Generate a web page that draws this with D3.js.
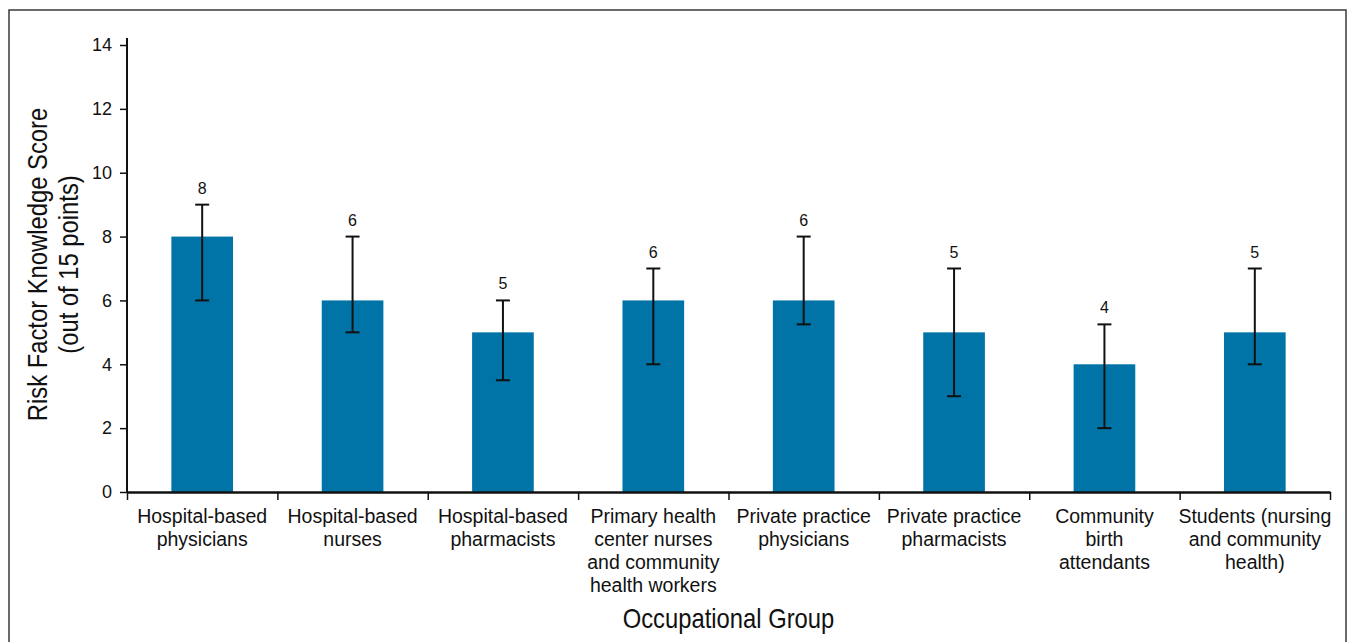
<!DOCTYPE html>
<html>
<head>
<meta charset="utf-8">
<script src="https://cdn.jsdelivr.net/npm/d3@7"></script>
<style>
  body { margin: 0; background: #fff; }
  svg { display: block; }
  .tick text { font-family: "Liberation Sans", Arial, sans-serif; }
</style>
</head>
<body>
<svg id="chart" width="1355" height="642"></svg>
<script>
// chart values
const categories = [
    ['Hospital-based', 'physicians'],
    ['Hospital-based', 'nurses'],
    ['Hospital-based', 'pharmacists'],
    ['Primary health', 'center nurses', 'and community', 'health workers'],
    ['Private practice', 'physicians'],
    ['Private practice', 'pharmacists'],
    ['Community', 'birth', 'attendants'],
    ['Students (nursing', 'and community', 'health)']
];
const scores = [8, 6, 5, 6, 6, 5, 4, 5];
const errLow = [6, 5, 3.5, 4, 5.25, 3, 2, 4];
const errHigh = [9, 8, 6, 7, 8, 7, 5.25, 7];
const yTicks = [0, 2, 4, 6, 8, 10, 12, 14];

const svg = d3.select('#chart');
const plotLeft = 127, plotRight = 1330, plotTop = 45, plotBottom = 492;
const barColor = '#0074a7';
const regular = '"Liberation Sans", Arial, sans-serif';
const squeeze = 0.85; // titles are set in a condensed face

//outer frame
svg.append('rect')
    .attr('x', 9).attr('y', 10)
    .attr('width', 1337).attr('height', 650)
    .attr('fill', 'none')
    .attr('stroke', '#3a3a3a')
    .attr('stroke-width', 1.5);

const x = d3.scaleBand()
    .domain(d3.range(categories.length))
    .range([plotLeft, plotRight]);
const xEdges = d3.scaleLinear()
    .domain([0, categories.length])
    .range([plotLeft, plotRight]);
const y = d3.scaleLinear()
    .domain([0, 14])
    .range([plotBottom, plotTop]);

const barW = x.bandwidth() * 0.41;

//bars
svg.append('g')
    .selectAll('rect')
    .data(scores)
    .join('rect')
    .attr('x', (d, i) => x(i) + x.bandwidth() / 2 - barW / 2)
    .attr('y', d => y(d))
    .attr('width', barW)
    .attr('height', d => y(0) - y(d))
    .attr('fill', barColor);

//error bars
const err = svg.append('g')
    .attr('stroke', '#111')
    .attr('stroke-width', 2);
scores.forEach((d, i) => {
    const cx = x(i) + x.bandwidth() / 2;
    const cap = 7;
    err.append('line')
        .attr('x1', cx).attr('x2', cx)
        .attr('y1', y(errLow[i])).attr('y2', y(errHigh[i]));
    [errLow[i], errHigh[i]].forEach(v => {
        err.append('line')
            .attr('x1', cx - cap).attr('x2', cx + cap)
            .attr('y1', y(v)).attr('y2', y(v));
    });
});

//value labels
svg.append('g')
    .selectAll('text')
    .data(scores)
    .join('text')
    .attr('x', (d, i) => x(i) + x.bandwidth() / 2)
    .attr('y', (d, i) => y(errHigh[i]) - 11)
    .attr('text-anchor', 'middle')
    .attr('font-family', regular)
    .attr('font-size', 16)
    .attr('fill', '#111')
    .text(d => d);

//y axis
const yAxis = svg.append('g')
    .attr('transform', `translate(${plotLeft},0)`)
    .call(d3.axisLeft(y).tickValues(yTicks).tickSize(7).tickPadding(8).tickSizeOuter(0));
yAxis.select('.domain').remove();
yAxis.append('line')
    .attr('x1', 0).attr('x2', 0)
    .attr('y1', y(0)).attr('y2', y(14.22))
    .attr('stroke', '#111').attr('stroke-width', 2);
yAxis.selectAll('.tick line').attr('stroke', '#111').attr('stroke-width', 1.5);
yAxis.selectAll('.tick text')
    .attr('font-size', 18)
    .attr('fill', '#111');

//x axis, ticks on band edges
const xAxis = svg.append('g')
    .attr('transform', `translate(0,${plotBottom})`)
    .call(d3.axisBottom(xEdges).ticks(categories.length).tickSize(8).tickSizeOuter(0).tickFormat(''));
xAxis.select('.domain').attr('stroke', '#111').attr('stroke-width', 2.5);
xAxis.selectAll('.tick line').attr('stroke', '#111').attr('stroke-width', 1.5);

//category labels
const labels = svg.append('g')
    .selectAll('text')
    .data(categories)
    .join('text')
    .attr('x', (d, i) => x(i) + x.bandwidth() / 2)
    .attr('y', 523)
    .attr('text-anchor', 'middle')
    .attr('font-family', regular)
    .attr('font-size', 19.5)
    .attr('fill', '#111');
labels.each(function(d) {
    const t = d3.select(this);
    const cx = t.attr('x');
    d.forEach((line, j) => {
        t.append('tspan')
            .attr('x', cx)
            .attr('dy', j === 0 ? 0 : 23)
            .text(line);
    });
});

//axis titles
svg.append('text')
    .attr('transform', `translate(${(plotLeft + plotRight) / 2},628) scale(${squeeze},1)`)
    .attr('text-anchor', 'middle')
    .attr('font-family', regular)
    .attr('font-size', 28)
    .attr('fill', '#111')
    .text('Occupational Group');

const yTitle = svg.append('text')
    .attr('transform', `translate(47,${(y(0) + y(14)) / 2 - 4}) rotate(-90) scale(${squeeze},1)`)
    .attr('text-anchor', 'middle')
    .attr('font-family', regular)
    .attr('font-size', 28)
    .attr('fill', '#111');
yTitle.append('tspan').attr('x', 0).attr('dy', 0).text('Risk Factor Knowledge Score');
yTitle.append('tspan').attr('x', 0).attr('dy', 31).text('(out of 15 points)');
</script>
</body>
</html>
